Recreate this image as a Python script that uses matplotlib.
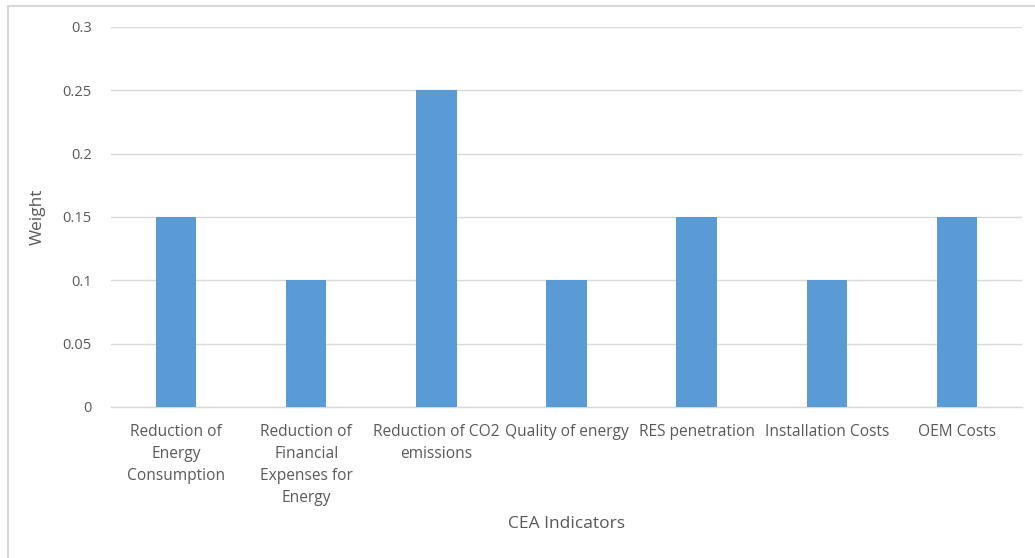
import matplotlib
matplotlib.use("Agg")
import matplotlib.pyplot as plt
from matplotlib.patches import Rectangle

categories = [
    "Reduction of\nEnergy\nConsumption",
    "Reduction of\nFinancial\nExpenses for\nEnergy",
    "Reduction of CO2\nemissions",
    "Quality of energy",
    "RES penetration",
    "Installation Costs",
    "OEM Costs",
]
weights = [0.15, 0.10, 0.25, 0.10, 0.15, 0.10, 0.15]
y_ticks = [0, 0.05, 0.1, 0.15, 0.2, 0.25, 0.3]
y_tick_labels = ["0", "0.05", "0.1", "0.15", "0.2", "0.25", "0.3"]

TEXT = "#595959"
GRID = "#D9D9D9"
BAR = "#5B9BD5"

plt.rcParams["font.family"] = ["Open Sans", "DejaVu Sans"]

W, H = 1035, 558
fig = plt.figure(figsize=(W / 100, H / 100), dpi=100)
fig.patch.set_facecolor("white")

# chart frame
fig.patches.append(Rectangle((8 / W, -0.05), 1.2, 1 - 6 / H + 0.05,
                             transform=fig.transFigure, fill=False,
                             edgecolor=GRID, linewidth=1.5))

ax = fig.add_axes([111 / W, 1 - 407 / H, 911 / W, 380 / H])
x = range(len(categories))
ax.bar(x, weights, width=0.31, color=BAR, zorder=3)

ax.set_xlim(-0.5, len(categories) - 0.5)
ax.set_ylim(0, 0.3)
ax.set_yticks(y_ticks)
ax.set_yticklabels(y_tick_labels, fontsize=10.5)
ax.set_xticks(list(x))
ax.set_xticklabels(categories, linespacing=1.5, fontsize=11.2)

ax.grid(axis="y", color=GRID, linewidth=1, zorder=0)
for side in ("top", "right", "left"):
    ax.spines[side].set_visible(False)
ax.spines["bottom"].set_color(GRID)
ax.spines["bottom"].set_linewidth(1)

ax.tick_params(axis="both", length=0, colors=TEXT)
ax.tick_params(axis="y", pad=14)
ax.tick_params(axis="x", pad=12)

ax.set_ylabel("Weight", fontsize=12.5, color=TEXT)
ax.yaxis.set_label_coords((46 - 111) / 911, 0.5)
fig.text(567 / W, 1 - 524 / H, "CEA Indicators", ha="center", va="center",
         fontsize=12.5, color=TEXT)

fig.savefig("out.png", dpi=100)
